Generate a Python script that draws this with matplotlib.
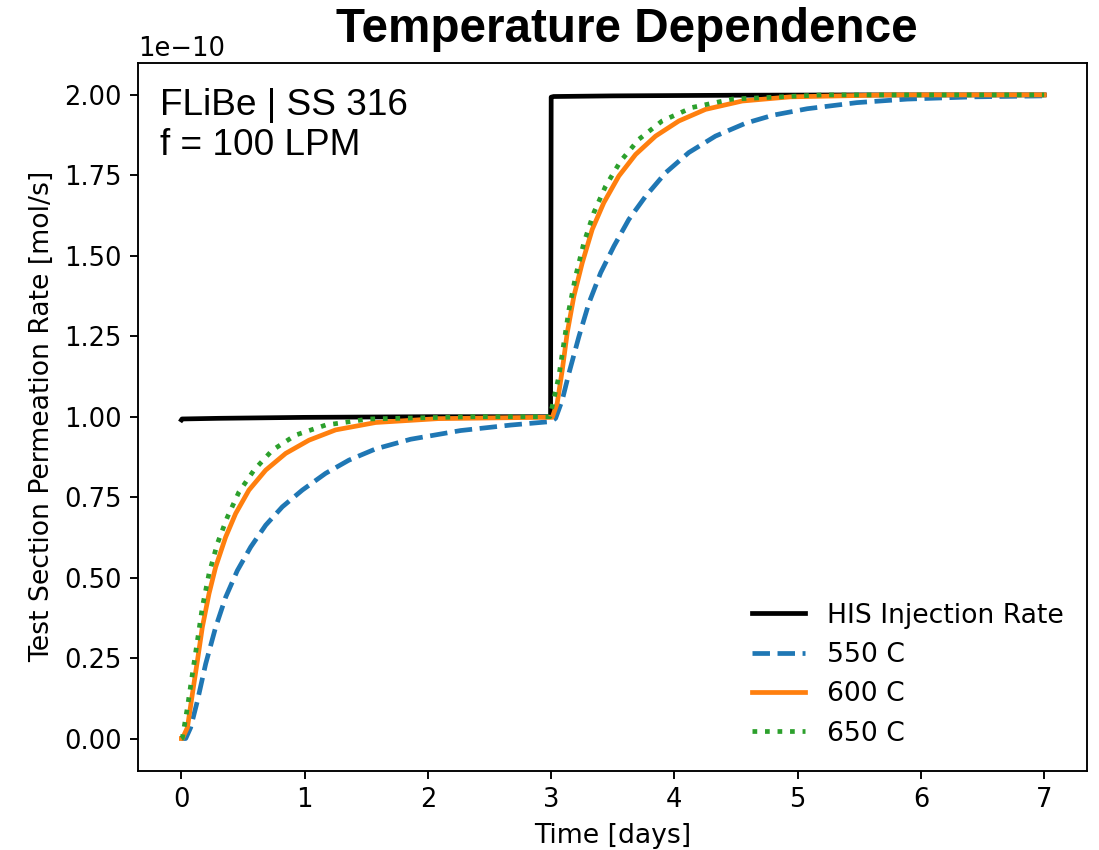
import numpy as np
import matplotlib.pyplot as plt

# values (rate in units of 1e-10 mol/s)
t_his = [0.0, 0.005, 0.3, 1.0, 2.0, 2.995, 3.0, 3.02, 3.5, 4.5, 5.5, 7.0]
his = [0.990, 0.993, 0.995, 0.998, 1.0, 1.0, 1.993, 1.995, 1.997, 1.999, 2.0, 2.0]

t_550 = [0.0, 0.035, 0.075, 0.13, 0.197, 0.278, 0.359, 0.454, 0.562, 0.684, 0.819,
         0.981, 1.17, 1.359, 1.576, 1.86, 2.265, 2.67, 2.97, 3.0, 3.036, 3.09,
         3.144, 3.225, 3.306, 3.401, 3.509, 3.63, 3.766, 3.928, 4.117, 4.333,
         4.577, 4.8, 5.077, 5.48, 5.888, 6.428, 7.0]
r_550 = [0.0, 0.0, 0.034, 0.117, 0.232, 0.346, 0.439, 0.522, 0.595, 0.663, 0.72,
         0.772, 0.824, 0.865, 0.900, 0.930, 0.957, 0.974, 0.984, 0.985, 0.995, 1.052,
         1.135, 1.249, 1.353, 1.447, 1.53, 1.613, 1.685, 1.758, 1.821, 1.872,
         1.912, 1.937, 1.957, 1.976, 1.987, 1.994, 1.997]

t_600 = [0.0, 0.008, 0.049, 0.089, 0.13, 0.17, 0.224, 0.278, 0.359, 0.44, 0.548,
         0.684, 0.846, 1.035, 1.251, 1.576, 2.08, 2.9, 3.009, 3.049, 3.09, 3.13,
         3.184, 3.252, 3.333, 3.427, 3.549, 3.685, 3.847, 4.036, 4.252, 4.55,
         4.94, 5.75, 7.0]
r_600 = [0.0, 0.0, 0.034, 0.138, 0.242, 0.346, 0.45, 0.533, 0.626, 0.699, 0.772,
         0.834, 0.886, 0.927, 0.959, 0.982, 0.994, 0.998, 0.998, 1.042, 1.145, 1.26,
         1.374, 1.478, 1.582, 1.665, 1.748, 1.815, 1.872, 1.919, 1.955, 1.981,
         1.994, 2.0, 2.0]

t_650 = [0.0, 0.008, 0.049, 0.089, 0.13, 0.17, 0.224, 0.292, 0.373, 0.467, 0.589,
         0.738, 0.927, 1.17, 1.52, 2.35, 2.99, 3.062, 3.103, 3.144, 3.198, 3.265,
         3.346, 3.441, 3.563, 3.711, 3.9, 4.144, 4.469, 5.2, 7.0]
r_650 = [0.0, 0.002, 0.097, 0.2, 0.304, 0.408, 0.512, 0.606, 0.688, 0.766, 0.834,
         0.896, 0.943, 0.974, 0.993, 1.0, 1.0, 1.125, 1.229, 1.332, 1.436, 1.54,
         1.634, 1.716, 1.794, 1.862, 1.919, 1.961, 1.987, 2.0, 2.0]

scale = 1e-10

fig = plt.figure(figsize=(1099 / 170, 850 / 170), dpi=170)
ax = fig.add_axes([0.1258, 0.0933, 0.8636, 0.8329])

ax.plot(t_his, np.array(his) * scale, color='black', lw=2, label='HIS Injection Rate')
ax.plot(t_550, np.array(r_550) * scale, color='tab:blue', lw=2, ls='--', label='550 C')
ax.plot(t_600, np.array(r_600) * scale, color='tab:orange', lw=2, ls='-', label='600 C')
ax.plot(t_650, np.array(r_650) * scale, color='tab:green', lw=2, ls=':', label='650 C')

ax.set_xticks(range(0, 8))
ax.set_xlabel('Time [days]', fontsize=11.3)
ax.set_ylabel('Test Section Permeation Rate [mol/s]', fontsize=11.3)
ax.tick_params(labelsize=10.9)
ax.yaxis.get_offset_text().set_fontsize(10.9)

ax.text(0.023, 0.965, 'FLiBe | SS 316\nf = 100 LPM', transform=ax.transAxes,
        fontsize=15.7, family='Liberation Sans', va='top', ha='left')

ax.legend(loc='lower right', frameon=False, fontsize=11.3)

fig.text(0.5705, 0.9506, 'Temperature Dependence', fontsize=20.2, fontweight='bold',
         family='Liberation Sans', ha='center', va='baseline')

fig.savefig('out.png', dpi=170)
